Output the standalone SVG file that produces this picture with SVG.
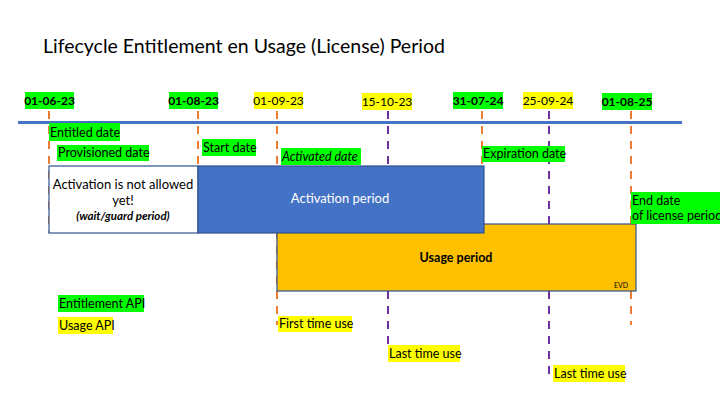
<svg xmlns="http://www.w3.org/2000/svg" width="720" height="405" viewBox="0 0 720 405">
<style>
text{font-family:Lato,"Open Sans","Liberation Sans",sans-serif;fill:#000}
.t{font-size:19.5px}
.d{font-size:12px}
.b{font-weight:bold}
.l{font-size:12.5px}
.g{fill:#00FF00}
.y{fill:#FFFF00}
.or{stroke:#ED7D31;stroke-width:2;stroke-dasharray:8,7;fill:none}
.pu{stroke:#7030A0;stroke-width:2;stroke-dasharray:8,7;fill:none}
.box{stroke:#2F528F;stroke-width:1.2}
</style>
<rect width="720" height="405" fill="#fff"/>
<text class="t" x="43" y="53">Lifecycle Entitlement en Usage (License) Period</text>

<g id="connectors">
<line x1="18" y1="122.5" x2="682" y2="122.5" stroke="#4472C4" stroke-width="3"/>
<line class="or" x1="49" y1="111" x2="49" y2="233"/>
<line class="or" x1="198" y1="111" x2="198" y2="166"/>
<line class="or" x1="277" y1="111" x2="277" y2="325"/>
<line class="pu" x1="388" y1="111" x2="388" y2="350"/>
<line class="or" x1="482" y1="111" x2="482" y2="166"/>
<line class="pu" x1="549" y1="111" x2="549" y2="380"/>
<line class="or" x1="631" y1="111" x2="631" y2="325"/>
</g>

<g id="dates">
<rect class="g" x="25" y="92" width="49" height="17"/><text class="d b" x="49.5" y="105" text-anchor="middle">01-06-23</text>
<rect class="g" x="169" y="92" width="49" height="17"/><text class="d b" x="193.5" y="105" text-anchor="middle">01-08-23</text>
<rect class="y" x="254" y="92" width="49" height="17"/><text class="d" x="278.5" y="105" text-anchor="middle">01-09-23</text>
<rect class="y" x="362" y="93" width="50" height="17"/><text class="d" x="387" y="106" text-anchor="middle">15-10-23</text>
<rect class="g" x="453" y="92" width="50" height="17"/><text class="d b" x="478" y="105" text-anchor="middle">31-07-24</text>
<rect class="y" x="523" y="92" width="50" height="17"/><text class="d" x="548" y="105" text-anchor="middle">25-09-24</text>
<rect class="g" x="602" y="93" width="50" height="17"/><text class="d b" x="627" y="106" text-anchor="middle">01-08-25</text>
</g>

<g id="usage-period">
<rect class="box" x="277" y="224" width="359" height="67" fill="#FFC000"/>
<text class="l b" x="456" y="262" text-anchor="middle">Usage period</text>
<text x="628" y="288" font-size="7" text-anchor="end">EVD</text>
</g>
<g id="wait-period">
<rect class="box" x="49" y="166" width="149" height="67" fill="#fff"/>
<text x="123" y="189" font-size="13" text-anchor="middle">Activation is not allowed</text>
<text x="123" y="205" font-size="13" text-anchor="middle">yet!</text>
<text x="123" y="220" font-size="11.5" font-weight="bold" font-style="italic" text-anchor="middle">(wait/guard period)</text>
</g>
<g id="activation-period">
<rect class="box" x="198" y="166" width="286" height="67" fill="#4472C4"/>
<text x="340" y="203" font-size="13" style="fill:#fff" text-anchor="middle">Activation period</text>
</g>

<g id="labels">
<rect class="g" x="49" y="123" width="71" height="18"/><text class="l" x="50" y="137">Entitled date</text>
<rect class="g" x="57" y="145" width="92" height="16"/><text class="l" x="58" y="157">Provisioned date</text>
<rect class="g" x="202" y="139" width="54" height="17"/><text class="l" x="203" y="152">Start date</text>
<rect class="g" x="281" y="148" width="80" height="17"/><text class="l" x="282" y="161" font-style="italic">Activated date</text>
<rect class="g" x="482" y="146" width="83" height="16"/><text class="l" x="483" y="158">Expiration date</text>
<rect class="g" x="631" y="192" width="89" height="32"/><text class="l" x="632" y="205">End date</text><text class="l" x="632" y="220">of license period</text>
<rect class="g" x="58" y="295" width="86" height="17"/><text class="l" x="59" y="308">Entitlement API</text>
<rect class="y" x="58" y="317" width="55" height="17"/><text class="l" x="59" y="330">Usage API</text>
<rect class="y" x="278" y="316" width="74" height="16"/><text class="l" x="279" y="328">First time use</text>
<rect class="y" x="388" y="345" width="72" height="17"/><text class="l" x="389" y="358">Last time use</text>
<rect class="y" x="553" y="365" width="72" height="17"/><text class="l" x="554" y="378">Last time use</text>
</g>
</svg>
